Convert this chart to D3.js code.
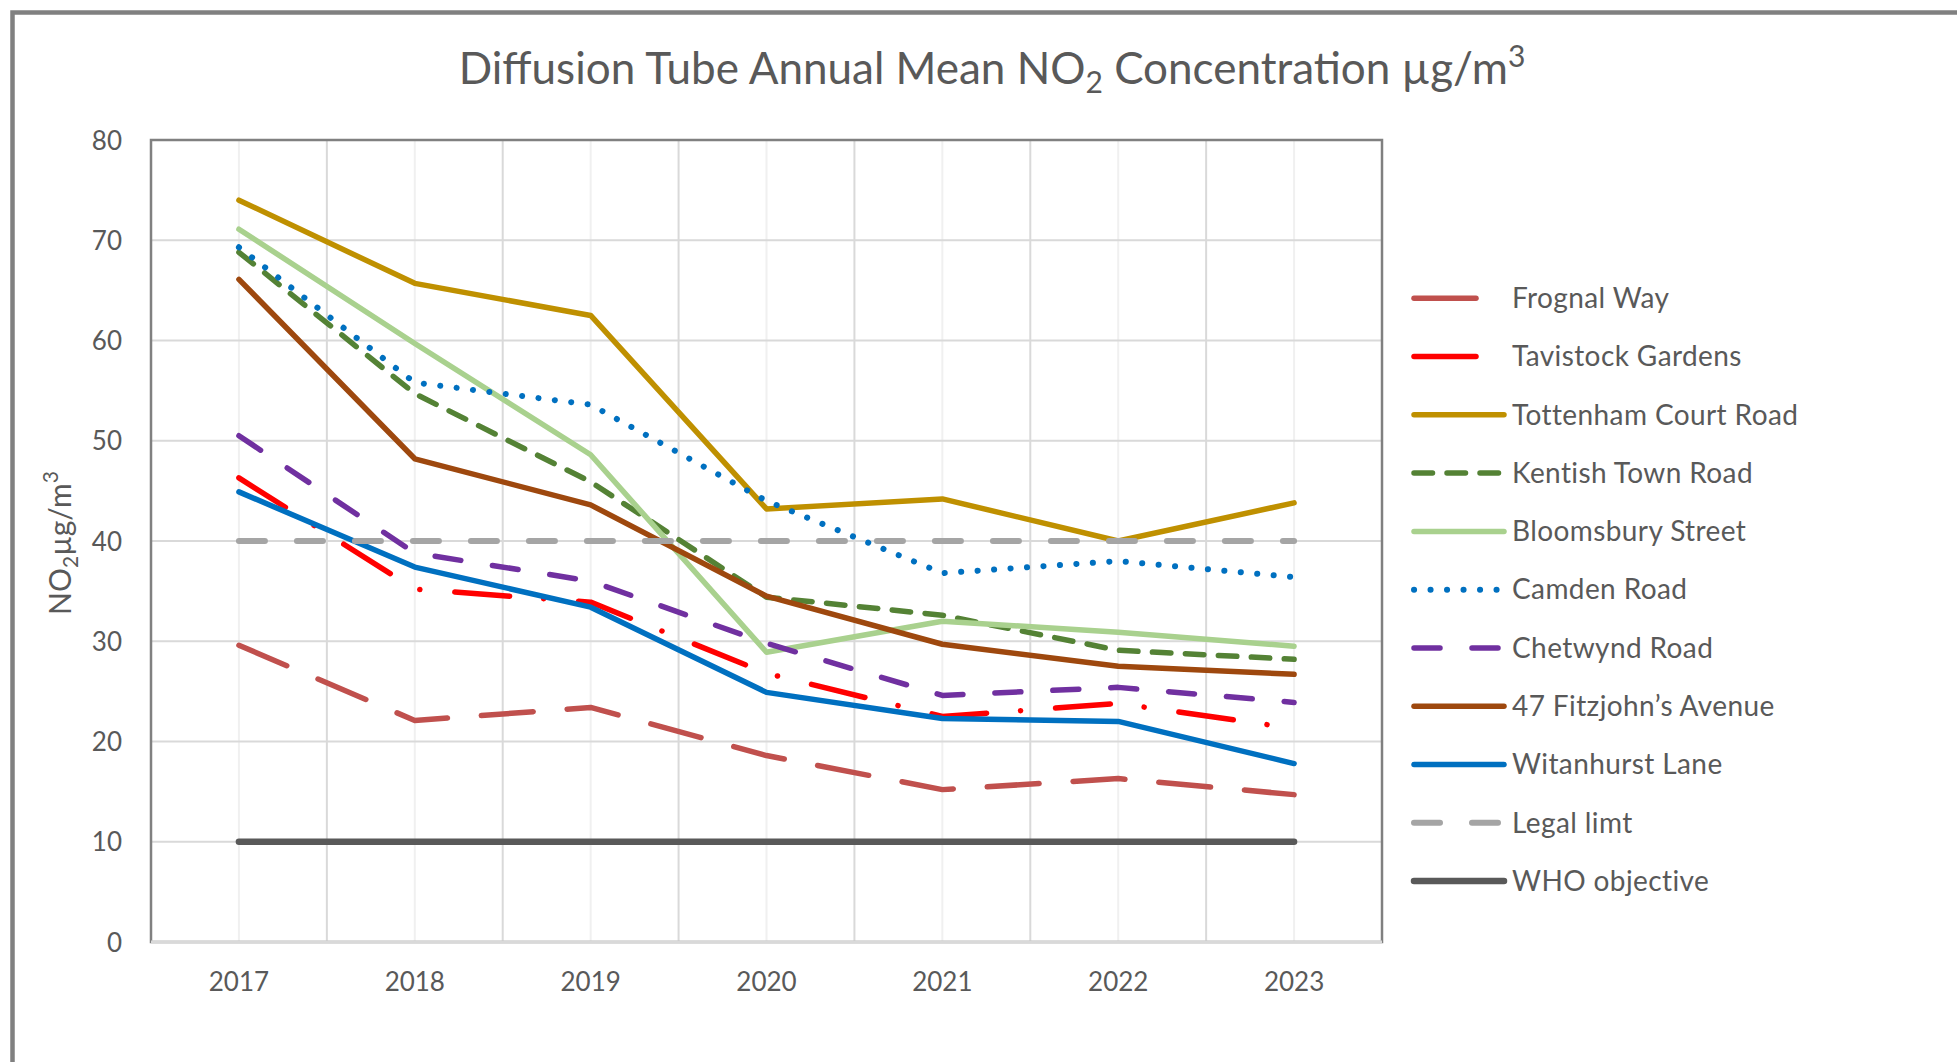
<!DOCTYPE html>
<html>
<head>
<meta charset="utf-8">
<script src="https://cdn.jsdelivr.net/npm/d3@7"></script>
<style>
  html, body { margin: 0; padding: 0; background: #fff; }
  svg { display: block; }
  text { font-family: Lato, "Open Sans", sans-serif; fill: #595959; }
</style>
</head>
<body>
<svg id="chart" width="1957" height="1062"></svg>
<script>
// ---------- data ----------
const years = ["2017", "2018", "2019", "2020", "2021", "2022", "2023"];
const yTicks = [0, 10, 20, 30, 40, 50, 60, 70, 80];
const seriesNames = ["Frognal Way", "Tavistock Gardens", "Tottenham Court Road", "Kentish Town Road",
  "Bloomsbury Street", "Camden Road", "Chetwynd Road", "47 Fitzjohn\u2019s Avenue", "Witanhurst Lane",
  "Legal limt", "WHO objective"];
const frognalWay        = [29.6, 22.1, 23.4, 18.6, 15.2, 16.3, 14.7];
const tavistockGardens  = [46.3, 35.2, 33.9, 26.8, 22.5, 23.8, 21.3];
const tottenhamCourtRd  = [74.0, 65.7, 62.5, 43.2, 44.2, 40.0, 43.8];
const kentishTownRd     = [68.8, 54.7, 45.9, 34.4, 32.6, 29.1, 28.2];
const bloomsburyStreet  = [71.1, 59.7, 48.6, 28.9, 32.0, 30.9, 29.5];
const camdenRoad        = [69.3, 55.8, 53.6, 44.0, 36.8, 38.0, 36.4];
const chetwyndRoad      = [50.5, 38.8, 36.0, 29.8, 24.6, 25.4, 23.9];
const fitzjohnsAvenue   = [66.1, 48.2, 43.6, 34.5, 29.7, 27.5, 26.7];
const witanhurstLane    = [44.9, 37.4, 33.4, 24.9, 22.3, 22.0, 17.8];
const legalLimit        = [40, 40, 40, 40, 40, 40, 40];
const whoObjective      = [10, 10, 10, 10, 10, 10, 10];
const seriesValues = [frognalWay, tavistockGardens, tottenhamCourtRd, kentishTownRd, bloomsburyStreet,
  camdenRoad, chetwyndRoad, fitzjohnsAvenue, witanhurstLane, legalLimit, whoObjective];

// ---------- styles ----------
const colors = ["#C0504D", "#FF0000", "#BF9000", "#548235", "#A9D18E", "#0070C0", "#7030A0",
  "#9E480E", "#0070C0", "#A5A5A5", "#595959"];
const dashes = ["52,34", "55,34,0.1,35", null, "18.5,14.5", null, "0.1,16.4", "26,32", null, null, "26,32", null];
const legendDashes = ["62,100", "62,100", null, "18.5,14.5", null, "0.1,16.4", "26,32", null, null, "26,32", null];
const widths = [5.5, 5.5, 5.5, 5.5, 5.5, 6, 5.5, 5.5, 5.5, 6, 6.5];

const svg = d3.select("#chart");
const W = 1957, H = 1062;
const plot = { left: 151, top: 140, right: 1382, bottom: 942 };

// outer chart border
svg.append("rect").attr("x", 12.5).attr("y", 12.5).attr("width", W + 40).attr("height", H + 40)
  .attr("fill", "#fff").attr("stroke", "#808080").attr("stroke-width", 4.5);

const x = d3.scaleBand().domain(years).range([plot.left, plot.right]).paddingInner(0).paddingOuter(0);
const y = d3.scaleLinear().domain([0, 80]).range([plot.bottom, plot.top]);
const cx = d => x(d) + x.bandwidth() / 2;

// minor vertical gridlines (centres)
svg.append("g").selectAll("line").data(years).join("line")
  .attr("x1", d => cx(d)).attr("x2", d => cx(d))
  .attr("y1", plot.top).attr("y2", plot.bottom)
  .attr("stroke", "#f0f0f0").attr("stroke-width", 2);
// major vertical gridlines (band edges)
svg.append("g").selectAll("line").data(years.slice(1)).join("line")
  .attr("x1", d => x(d)).attr("x2", d => x(d))
  .attr("y1", plot.top).attr("y2", plot.bottom)
  .attr("stroke", "#d9d9d9").attr("stroke-width", 2);
// horizontal gridlines
svg.append("g").selectAll("line").data(yTicks.slice(1)).join("line")
  .attr("x1", plot.left).attr("x2", plot.right)
  .attr("y1", d => y(d)).attr("y2", d => y(d))
  .attr("stroke", "#d9d9d9").attr("stroke-width", 2);

// plot border
svg.append("rect").attr("x", plot.left).attr("y", plot.top)
  .attr("width", plot.right - plot.left).attr("height", plot.bottom - plot.top)
  .attr("fill", "none").attr("stroke", "#808080").attr("stroke-width", 2.5);
// x axis line
svg.append("line").attr("x1", plot.left).attr("x2", plot.right)
  .attr("y1", plot.bottom).attr("y2", plot.bottom)
  .attr("stroke", "#d9d9d9").attr("stroke-width", 3);

// axes (labels only)
const yAxis = d3.axisLeft(y).tickValues(yTicks).tickSize(0).tickPadding(0);
const gy = svg.append("g").attr("transform", `translate(${plot.left - 29},0)`).call(yAxis);
gy.select(".domain").remove();
gy.selectAll("text").attr("font-size", 26).attr("font-family", "Lato").attr("fill", "#595959").attr("dy", "0.35em");

const xAxis = d3.axisBottom(x).tickSize(0).tickPadding(0);
const gx = svg.append("g").attr("transform", `translate(0,${plot.bottom + 40})`).call(xAxis);
gx.select(".domain").remove();
gx.selectAll("text").attr("font-size", 26).attr("font-family", "Lato").attr("fill", "#595959").attr("dy", "0.35em");

// series lines
const line = d3.line().x((d, i) => cx(years[i])).y(d => y(d));
const lines = svg.append("g");
seriesValues.forEach((vals, k) => {
  lines.append("path").datum(vals).attr("d", line)
    .attr("fill", "none").attr("stroke", colors[k]).attr("stroke-width", widths[k])
    .attr("stroke-linecap", "round").attr("stroke-linejoin", "round")
    .attr("stroke-dasharray", dashes[k]);
});

// legend
const legend = svg.append("g");
const legendY = d3.scalePoint().domain(seriesNames).range([298.3, 881]);
seriesNames.forEach((name, k) => {
  const ly = legendY(name);
  legend.append("line").attr("x1", 1414).attr("x2", 1504).attr("y1", ly).attr("y2", ly)
    .attr("stroke", colors[k]).attr("stroke-width", widths[k])
    .attr("stroke-linecap", "round").attr("stroke-dasharray", legendDashes[k]);
  legend.append("text").attr("x", 1512).attr("y", ly).attr("dy", "0.35em")
    .attr("font-size", 28).attr("letter-spacing", 0.4).text(name);
});

// title
const title = svg.append("text").attr("x", 992).attr("y", 84).attr("text-anchor", "middle")
  .attr("font-size", 44);
title.append("tspan").text("Diffusion Tube Annual Mean NO");
title.append("tspan").attr("font-size", 30).attr("dy", 9).text("2");
title.append("tspan").attr("dy", -9).text(" Concentration \u00b5g/m");
title.append("tspan").attr("font-size", 30).attr("dy", -17).text("3");

// y axis title
const yt = svg.append("text").attr("transform", "translate(71,543) rotate(-90)")
  .attr("text-anchor", "middle").attr("font-size", 30);
yt.append("tspan").text("NO");
yt.append("tspan").attr("font-size", 21).attr("dy", 7).text("2");
yt.append("tspan").attr("dy", -7).text("\u00b5g/m");
yt.append("tspan").attr("font-size", 21).attr("dy", -13).text("3");
</script>
</body>
</html>
